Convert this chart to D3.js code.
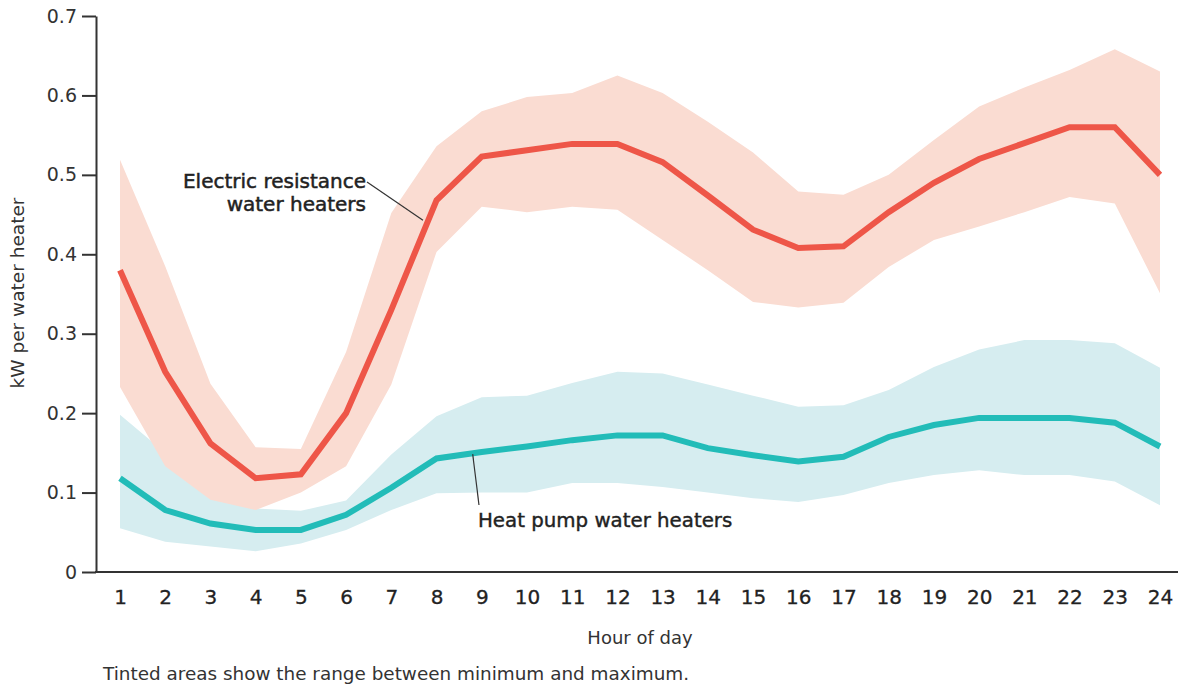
<!DOCTYPE html>
<html>
<head>
<meta charset="utf-8">
<script src="https://d3js.org/d3.v7.min.js"></script>
<style>
  body { margin: 0; background: #fff; }
  text { font-family: "DejaVu Sans", sans-serif; }
</style>
</head>
<body>
<script>
  // hours and values
  const hours = d3.range(1, 25);
  const yTicks = [0, 0.1, 0.2, 0.3, 0.4, 0.5, 0.6, 0.7];

  const elecMean = [0.380, 0.252, 0.162, 0.118, 0.123, 0.200, 0.330, 0.468, 0.523, 0.531, 0.539, 0.539,
                    0.516, 0.474, 0.431, 0.408, 0.410, 0.453, 0.490, 0.520, 0.540, 0.560, 0.560, 0.500];
  const elecMax  = [0.519, 0.385, 0.237, 0.157, 0.155, 0.277, 0.452, 0.536, 0.580, 0.598, 0.603, 0.625,
                    0.603, 0.567, 0.528, 0.479, 0.475, 0.500, 0.544, 0.586, 0.610, 0.632, 0.658, 0.630];
  const elecMin  = [0.233, 0.133, 0.091, 0.078, 0.100, 0.133, 0.236, 0.403, 0.460, 0.453, 0.460, 0.456,
                    0.418, 0.380, 0.340, 0.333, 0.339, 0.384, 0.418, 0.435, 0.453, 0.472, 0.464, 0.351];

  const hpMean = [0.118, 0.078, 0.061, 0.053, 0.053, 0.072, 0.106, 0.143, 0.151, 0.158, 0.166, 0.172,
                  0.172, 0.156, 0.147, 0.139, 0.145, 0.170, 0.185, 0.194, 0.194, 0.194, 0.188, 0.158];
  const hpMax  = [0.198, 0.150, 0.110, 0.080, 0.077, 0.090, 0.148, 0.196, 0.220, 0.222, 0.238, 0.252,
                  0.250, 0.236, 0.222, 0.208, 0.210, 0.229, 0.258, 0.280, 0.292, 0.292, 0.288, 0.257];
  const hpMin  = [0.055, 0.038, 0.032, 0.026, 0.036, 0.053, 0.078, 0.099, 0.100, 0.100, 0.112, 0.112,
                  0.107, 0.100, 0.093, 0.088, 0.097, 0.112, 0.122, 0.128, 0.122, 0.122, 0.114, 0.084];

  const W = 1180, H = 689;

  const svg = d3.select("body")
    .append("svg")
    .attr("width", W)
    .attr("height", H);

  const x = d3.scaleLinear().domain([1, 24]).range([120, 1160]);
  const y = d3.scaleLinear().domain([0, 0.7]).range([572, 16]);

  const rows = (mean, lo, hi) => hours.map((h, i) => ({ h, mean: mean[i], lo: lo[i], hi: hi[i] }));
  const elec = rows(elecMean, elecMin, elecMax);
  const hp = rows(hpMean, hpMin, hpMax);

  const band = d3.area()
    .x(d => x(d.h))
    .y0(d => y(d.lo))
    .y1(d => y(d.hi));

  const line = d3.line()
    .x(d => x(d.h))
    .y(d => y(d.mean));

  // tinted ranges
  svg.append("path")
    .attr("d", band(hp))
    .attr("fill", "#d6edf0");

  svg.append("path")
    .attr("d", band(elec))
    .attr("fill", "#fadcd2");

  // average lines
  svg.append("path")
    .attr("d", line(hp))
    .attr("fill", "none")
    .attr("stroke", "#22bcb8")
    .attr("stroke-width", 6);

  svg.append("path")
    .attr("d", line(elec))
    .attr("fill", "none")
    .attr("stroke", "#ee5648")
    .attr("stroke-width", 6);

  // y axis
  const yAxis = svg.append("g")
    .attr("transform", "translate(96,0)")
    .call(d3.axisLeft(y).tickValues(yTicks).tickFormat(d => d === 0 ? "0" : d3.format(".1f")(d)).tickSize(14).tickSizeOuter(0).tickPadding(5));
  yAxis.select(".domain").attr("stroke", "#333").attr("stroke-width", 2);
  yAxis.selectAll(".tick line").attr("stroke", "#333").attr("stroke-width", 2);
  yAxis.selectAll(".tick text")
    .attr("fill", "#333")
    .style("font-size", "19px");

  // x axis
  const xAxis = svg.append("g")
    .attr("transform", "translate(0,572)")
    .call(d3.axisBottom(x).tickValues(hours).tickSize(0).tickPadding(18));
  xAxis.select(".domain")
    .attr("d", "M95,0H1178")
    .attr("stroke", "#333")
    .attr("stroke-width", 2);
  xAxis.selectAll(".tick text")
    .attr("fill", "#222")
    .attr("stroke", "#222")
    .attr("stroke-width", 0.3)
    .style("font-size", "20px");

  // axis titles
  svg.append("text")
    .attr("transform", "translate(24,293) rotate(-90)")
    .attr("text-anchor", "middle")
    .attr("fill", "#333")
    .style("font-size", "18.5px")
    .text("kW per water heater");

  svg.append("text")
    .attr("x", 640)
    .attr("y", 644)
    .attr("text-anchor", "middle")
    .attr("fill", "#333")
    .style("font-size", "18px")
    .text("Hour of day");

  svg.append("text")
    .attr("x", 103)
    .attr("y", 680)
    .attr("fill", "#333")
    .style("font-size", "18.4px")
    .text("Tinted areas show the range between minimum and maximum.");

  // annotations
  svg.append("line")
    .attr("x1", 367).attr("y1", 182)
    .attr("x2", x(7.7)).attr("y2", y(0.443))
    .attr("stroke", "#333")
    .attr("stroke-width", 1.2);

  const elecLabel = svg.append("text")
    .attr("text-anchor", "end")
    .attr("fill", "#222")
    .attr("stroke", "#222")
    .attr("stroke-width", 0.5)
    .style("font-size", "20px");
  elecLabel.append("tspan").attr("x", 366).attr("y", 188).text("Electric resistance");
  elecLabel.append("tspan").attr("x", 366).attr("y", 211).text("water heaters");

  svg.append("line")
    .attr("x1", x(8.8)).attr("y1", y(hpMean[8]) + 2)
    .attr("x2", 479).attr("y2", 505)
    .attr("stroke", "#333")
    .attr("stroke-width", 1.2);

  svg.append("text")
    .attr("x", 478)
    .attr("y", 527)
    .attr("fill", "#222")
    .attr("stroke", "#222")
    .attr("stroke-width", 0.4)
    .style("font-size", "19.8px")
    .text("Heat pump water heaters");
</script>
</body>
</html>
